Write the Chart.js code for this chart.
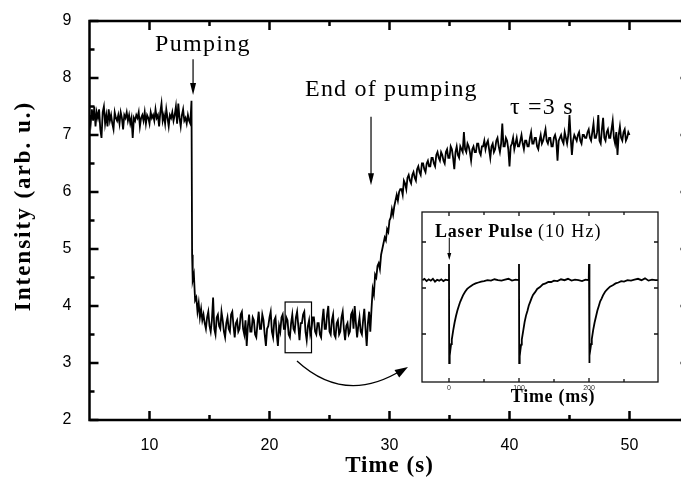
<!DOCTYPE html>
<html>
<head>
<meta charset="utf-8">
<script src="https://cdn.jsdelivr.net/npm/chart.js@4.4.1/dist/chart.umd.min.js"></script>
<style>
html,body{margin:0;padding:0;background:#fff;overflow:hidden;width:681px;height:479px;}
#wrap{position:relative;width:681px;height:479px;overflow:hidden;}
#main{position:absolute;left:0;top:0;}
#inset{position:absolute;left:380px;top:190px;}
</style>
</head>
<body>
<div id="wrap">
<canvas id="main" width="700" height="479"></canvas>
<canvas id="inset" width="300" height="230"></canvas>
</div>
<script>
// ---------- main trace data (time in s, intensity in arb. u.) ----------
const baselineTime = [5.0,5.1,5.2,5.3,5.4,5.5,5.6,5.7,5.8,5.9,6.0,6.1,6.2,6.3,6.4,6.5,6.6,6.7,6.8,6.9,7.0,7.1,7.2,7.3,7.4,7.5,7.6,7.7,7.8,7.9,8.0,8.1,8.2,8.3,8.4,8.5,8.6,8.7,8.8,8.9,9.0,9.1,9.2,9.3,9.4,9.5,9.6,9.7,9.8,9.9,10.0,10.1,10.2,10.3,10.4,10.5,10.6,10.7,10.8,10.9,11.0,11.1,11.2,11.3,11.4,11.5,11.6,11.7,11.8,11.9,12.0,12.1,12.2,12.3,12.4,12.5,12.6,12.7,12.8,12.9,13.0,13.1,13.2,13.3,13.4];
const baselineIntensity = [7.35,7.2,7.45,7.25,7.5,7.15,7.4,7.3,7.45,7.1,6.95,7.4,7.5,7.2,7.35,7.15,7.45,7.25,7.35,7.2,7.1,7.4,7.3,7.25,7.35,7.2,7.4,7.3,7.1,7.35,7.3,7.4,7.25,7.35,7.2,7.3,6.95,7.3,7.25,7.35,7.3,7.4,7.15,7.3,7.35,7.25,7.4,7.2,7.35,7.3,7.2,7.4,7.3,7.35,7.25,7.45,7.3,7.35,7.15,7.4,7.55,7.25,7.35,7.2,7.45,7.3,7.15,7.35,7.3,7.4,7.25,7.35,7.5,7.2,7.55,7.3,7.15,7.35,7.45,7.25,7.3,7.2,7.35,7.25,7.2];
const dropTime = [13.5,13.55,13.6,13.7,13.8,13.9,14.0,14.1,14.2,14.3,14.4];
const dropIntensity = [7.6,4.9,4.45,4.55,4.1,4.15,3.9,4.05,3.8,3.95,3.75];
const plateauTime = [14.5,14.6,14.7,14.8,14.9,15.0,15.1,15.2,15.3,15.4,
 15.5,15.6,15.7,15.8,15.9,16.0,16.1,16.2,16.3,16.4,
 16.5,16.6,16.7,16.8,16.9,17.0,17.1,17.2,17.3,17.4,
 17.5,17.6,17.7,17.8,17.9,18.0,18.1,18.2,18.3,18.4,
 18.5,18.6,18.7,18.8,18.9,19.0,19.1,19.2,19.3,19.4,
 19.5,19.6,19.7,19.8,19.9,20.0,20.1,20.2,20.3,20.4,
 20.5,20.6,20.7,20.8,20.9,21.0,21.1,21.2,21.3,21.4,
 21.5,21.6,21.7,21.8,21.9,22.0,22.1,22.2,22.3,22.4,
 22.5,22.6,22.7,22.8,22.9,23.0,23.1,23.2,23.3,23.4,
 23.5,23.6,23.7,23.8,23.9,24.0,24.1,24.2,24.3,24.4,
 24.5,24.6,24.7,24.8,24.9,25.0,25.1,25.2,25.3,25.4,
 25.5,25.6,25.7,25.8,25.9,26.0,26.1,26.2,26.3,26.4,
 26.5,26.6,26.7,26.8,26.9,27.0,27.1,27.2,27.3,27.4,
 27.5,27.6,27.7,27.8,27.9,28.0,28.1,28.2,28.3];
const plateauIntensity = [3.85,3.7,3.6,3.8,3.9,3.65,3.55,3.75,4.15,3.6,
 3.5,3.8,3.85,3.65,3.6,3.9,3.75,3.55,3.45,3.7,
 3.8,3.6,3.55,3.85,3.9,3.65,3.45,3.7,3.75,3.55,
 3.6,3.85,3.9,3.6,3.5,3.75,3.3,3.65,3.85,3.55,
 3.55,3.8,3.75,3.5,3.45,3.7,3.9,3.6,3.6,3.85,
 3.75,3.5,3.3,3.6,3.65,3.8,3.9,3.55,3.45,3.75,
 3.8,3.5,3.3,3.65,3.55,3.8,3.85,3.6,3.6,3.8,
 3.75,3.5,3.45,3.7,3.85,3.6,3.55,3.8,3.9,3.65,
 3.4,3.7,3.7,3.85,3.9,3.55,3.4,3.65,3.75,3.5,
 3.6,3.8,3.8,3.55,3.5,3.7,3.7,3.5,3.45,3.75,
 3.95,3.6,3.6,3.85,4.0,3.55,3.5,3.75,3.85,3.5,
 3.45,3.7,3.75,3.5,3.55,3.8,3.9,3.6,3.4,3.65,
 3.7,3.5,3.55,3.85,3.9,3.6,4.0,3.7,3.45,3.65,
 3.8,3.55,3.5,3.75,3.95,3.6,3.3,3.7,3.9];
const recoveryTime = [28.4,28.5,28.6,28.7,28.8,28.9,
 29.0,29.1,29.2,29.3,29.4,29.5,29.6,29.7,29.8,29.9,
 30.0,30.1,30.2,30.3,30.4,30.5,30.6,30.7,30.8,30.9,
 31.0,31.1,31.2,31.3,31.4,31.5,31.6,31.7,31.8,31.9,
 32.0,32.1,32.2,32.3,32.4,32.5,32.6,32.7,32.8,32.9,
 33.0,33.1,33.2,33.3,33.4,33.5,33.6,33.7,33.8,33.9,
 34.0,34.1,34.2,34.3,34.4,34.5,34.6,34.7,34.8,34.9,
 35.0,35.1,35.2,35.3,35.4,35.5,35.6,35.7,35.8,35.9,
 36.0,36.1,36.2,36.3,36.4,36.5,36.6,36.7,36.8,36.9,
 37.0,37.1,37.2,37.3,37.4,37.5,37.6,37.7,37.8,37.9,
 38.0,38.1,38.2,38.3,38.4,38.5,38.6,38.7,38.8,38.9,
 39.0,39.1,39.2,39.3,39.4,39.5,39.6,39.7,39.8,39.9,
 40.0,40.1,40.2,40.3,40.4,40.5,40.6,40.7,40.8,40.9,
 41.0,41.1,41.2,41.3,41.4,41.5,41.6,41.7,41.8,41.9,
 42.0,42.1,42.2,42.3,42.4,42.5,42.6,42.7,42.8,42.9,
 43.0,43.1,43.2,43.3,43.4,43.5,43.6,43.7,43.8,43.9,
 44.0,44.1,44.2,44.3,44.4,44.5,44.6,44.7,44.8,44.9,
 45.0,45.1,45.2,45.3,45.4,45.5,45.6,45.7,45.8,45.9,
 46.0,46.1,46.2,46.3,46.4,46.5,46.6,46.7,46.8,46.9,
 47.0,47.1,47.2,47.3,47.4,47.5,47.6,47.7,47.8,47.9,
 48.0,48.1,48.2,48.3,48.4,48.5,48.6,48.7,48.8,48.9,
 49.0,49.1,49.2,49.3,49.4,49.5,49.6,49.7,49.8,49.9,
 50.0];
const recoveryIntensity = [3.55,3.95,4.3,4.2,4.55,4.5,
 4.7,4.75,4.65,4.9,5.0,5.1,5.2,5.15,5.35,5.3,
 5.5,5.55,5.7,5.6,5.75,5.85,5.95,5.85,6.0,6.05,
 6.05,5.95,6.2,6.15,6.05,6.25,6.3,6.2,6.15,6.3,
 6.35,6.25,6.2,6.4,6.45,6.35,6.3,6.5,6.5,6.4,
 6.35,6.5,6.55,6.45,6.45,6.6,6.6,6.5,6.45,6.65,
 6.7,6.6,6.55,6.7,6.65,6.55,6.5,6.7,6.75,6.6,
 6.6,6.8,6.75,6.6,6.4,6.7,6.8,6.65,6.6,6.8,
 6.75,6.7,7.05,6.75,6.7,6.85,6.8,6.7,6.55,6.75,
 6.8,6.7,6.7,6.85,6.85,6.7,6.65,6.8,6.8,6.9,
 6.75,6.85,6.9,6.75,6.6,6.8,6.85,6.7,6.75,6.9,
 6.95,6.8,6.7,6.85,7.2,6.8,6.8,6.95,6.9,6.75,
 6.45,6.8,6.85,6.95,6.75,6.85,6.95,6.8,6.8,6.9,
 7.0,6.85,6.75,6.9,6.9,6.8,6.8,6.95,7.05,6.85,
 6.85,6.95,6.95,6.8,6.75,6.9,7.0,6.85,6.9,7.0,
 7.1,6.9,6.85,6.95,6.95,6.8,6.8,6.95,7.0,6.9,
 6.55,6.9,6.95,7.0,6.9,6.85,7.05,6.95,6.85,7.0,
 7.35,6.95,6.65,6.9,7.0,6.95,6.9,7.0,7.05,6.9,
 6.85,7.0,7.0,6.95,6.95,7.05,7.1,6.95,6.9,7.05,
 7.2,6.95,6.95,7.05,7.35,6.9,6.85,7.1,7.3,6.95,
 6.9,7.05,7.1,6.95,6.95,7.1,7.25,6.95,6.85,7.05,
 6.65,7.0,7.15,6.95,6.9,7.05,7.1,6.9,6.95,7.05,
 7.0];

// ---------- inset data (time in ms, signal arb.) ----------
const insetTime = [-38,-35,-32,-29,-26,-23,-20,-17,-14,-11,-8,-5,-2,-0.4,
 0,0.3,1,2,3,4,6,8,10,12,14,16,18,20,23,26,30,34,38,42,46,50,55,60,65,70,75,80,85,90,95,99.6,
 100,100.3,101,102,103,104,106,108,110,112,114,116,118,120,123,126,130,134,138,142,146,150,155,160,165,170,175,180,185,190,195,199.6,
 200,200.3,201,202,203,204,206,208,210,212,214,216,218,220,223,226,230,234,238,242,246,250,255,260,265,270,275,280,285,290,295,298.5];
const insetSignal = [1.17,1.2,1.15,1.19,1.16,1.2,1.14,1.18,1.16,1.19,1.15,1.18,1.17,1.17,
 1.52,-0.63,-0.47,-0.34,-0.22,-0.12,0.08,0.25,0.39,0.51,0.61,0.7,0.77,0.84,0.92,0.98,1.03,1.07,1.1,1.12,1.14,1.15,1.17,1.16,1.19,1.17,1.16,1.18,1.2,1.16,1.18,1.17,
 1.52,-0.63,-0.48,-0.35,-0.23,-0.12,0.07,0.26,0.4,0.5,0.62,0.7,0.78,0.85,0.91,0.98,1.02,1.08,1.1,1.13,1.13,1.16,1.15,1.19,1.17,1.2,1.16,1.18,1.17,1.15,1.18,1.17,
 1.52,-0.63,-0.47,-0.33,-0.22,-0.11,0.09,0.25,0.38,0.51,0.61,0.71,0.77,0.84,0.92,0.97,1.03,1.06,1.1,1.12,1.15,1.14,1.17,1.16,1.18,1.2,1.17,1.21,1.16,1.18,1.17,1.17];

// ---------- ticks ----------
const xTickLabels = [10,20,30,40,50];
const xMinorTicks = [15,25,35,45];
const yTickLabels = [2,3,4,5,6,7,8,9];
const yMinorTicks = [2.5,3.5,4.5,5.5,6.5,7.5,8.5];
const insetXTickLabels = [0,100,200];
const insetXMinorTicks = [50,150,250];
const insetYTicks = [0,1,2];

const time = [...baselineTime, ...dropTime, ...plateauTime, ...recoveryTime];
const intensity = [...baselineIntensity, ...dropIntensity, ...plateauIntensity, ...recoveryIntensity];
const mainPoints = time.map((t,i)=>({x:t,y:intensity[i]}));
const insetPoints = insetTime.map((t,i)=>({x:t,y:insetSignal[i]}));

const SERIF = '"Liberation Serif", "Times New Roman", serif';
const SANS = '"Liberation Sans", Arial, sans-serif';

function txt(ctx, s, x, y, font, spacing, align, baseline){
  ctx.save();
  ctx.font = font;
  try{ ctx.letterSpacing = spacing + 'px'; }catch(e){}
  ctx.textAlign = align || 'left';
  ctx.textBaseline = baseline || 'alphabetic';
  ctx.fillStyle = '#000';
  ctx.fillText(s, x, y);
  ctx.restore();
}
function arrowDown(ctx, x, y0, y1, headLen, headW, lw){
  ctx.save();
  ctx.strokeStyle = '#000'; ctx.fillStyle = '#000'; ctx.lineWidth = lw;
  ctx.beginPath(); ctx.moveTo(x, y0); ctx.lineTo(x, y1 - headLen + 1); ctx.stroke();
  ctx.beginPath(); ctx.moveTo(x - headW/2, y1 - headLen); ctx.lineTo(x + headW/2, y1 - headLen); ctx.lineTo(x, y1); ctx.closePath(); ctx.fill();
  ctx.restore();
}

// ---------- main chart plugin ----------
const mainDecor = {
  id:'mainDecor',
  afterDraw(chart){
    const ctx = chart.ctx, a = chart.chartArea, xs = chart.scales.x, ys = chart.scales.y;
    ctx.save();
    ctx.strokeStyle = '#000';
    ctx.lineWidth = 2.5;
    ctx.strokeRect(a.left, a.top, a.right - a.left, a.bottom - a.top);
    ctx.beginPath();
    const tick = (v, len) => { const p = xs.getPixelForValue(v);
      ctx.moveTo(p, a.bottom); ctx.lineTo(p, a.bottom - len);
      ctx.moveTo(p, a.top); ctx.lineTo(p, a.top + len); };
    xTickLabels.forEach(v => tick(v, 9));
    xMinorTicks.forEach(v => tick(v, 5));
    const ytick = (v, len) => { const p = ys.getPixelForValue(v);
      ctx.moveTo(a.left, p); ctx.lineTo(a.left + len, p);
      ctx.moveTo(a.right, p); ctx.lineTo(a.right - len, p); };
    yTickLabels.forEach(v => ytick(v, 9));
    yMinorTicks.forEach(v => ytick(v, 5));
    ctx.stroke();

    // zoom rectangle
    ctx.lineWidth = 1.2;
    const rx0 = xs.getPixelForValue(21.3), rx1 = xs.getPixelForValue(23.5);
    const ry0 = ys.getPixelForValue(4.07), ry1 = ys.getPixelForValue(3.18);
    ctx.strokeRect(rx0, ry0, rx1 - rx0, ry1 - ry0);

    // curved arrow
    const sx = xs.getPixelForValue(22.29), sy = ys.getPixelForValue(3.035);
    const cx = xs.getPixelForValue(26.29), cy = ys.getPixelForValue(2.26);
    const ex = xs.getPixelForValue(31.54), ey = ys.getPixelForValue(2.93);
    ctx.lineWidth = 1.3;
    ctx.beginPath(); ctx.moveTo(sx, sy); ctx.quadraticCurveTo(cx, cy, ex - 6, ey + 3); ctx.stroke();
    const ang = Math.atan2(ey - cy, ex - cx);
    ctx.beginPath();
    ctx.moveTo(ex, ey);
    ctx.lineTo(ex - 13*Math.cos(ang) + 4.5*Math.sin(ang), ey - 13*Math.sin(ang) - 4.5*Math.cos(ang));
    ctx.lineTo(ex - 13*Math.cos(ang) - 4.5*Math.sin(ang), ey - 13*Math.sin(ang) + 4.5*Math.cos(ang));
    ctx.closePath(); ctx.fillStyle = '#000'; ctx.fill();
    ctx.restore();

    // annotations
    txt(ctx, 'Pumping', xs.getPixelForValue(10.46), ys.getPixelForValue(8.47), '24px ' + SERIF, 1.3);
    arrowDown(ctx, xs.getPixelForValue(13.63), ys.getPixelForValue(8.33), ys.getPixelForValue(7.7), 12, 6, 1.2);
    txt(ctx, 'End of pumping', xs.getPixelForValue(22.96), ys.getPixelForValue(7.68), '24px ' + SERIF, 1.2);
    arrowDown(ctx, xs.getPixelForValue(28.46), ys.getPixelForValue(7.32), ys.getPixelForValue(6.12), 12, 6, 1.2);
    txt(ctx, '\u03c4 =3 s', xs.getPixelForValue(40.04), ys.getPixelForValue(7.37), '24px ' + SERIF, 1.2);

    // axis titles
    txt(ctx, 'Time (s)', (a.left + a.right)/2, 472, 'bold 23px ' + SERIF, 1, 'center');
    ctx.save();
    ctx.translate(30, 206);
    ctx.rotate(-Math.PI/2);
    txt(ctx, 'Intensity (arb. u.)', 0, 0, 'bold 23px ' + SERIF, 2, 'center');
    ctx.restore();
  }
};

new Chart(document.getElementById('main'), {
  type:'line',
  data:{ datasets:[{ data: mainPoints, borderColor:'#000', borderWidth:1.8, pointRadius:0, tension:0, fill:false }] },
  options:{
    responsive:false, animation:false, devicePixelRatio:1,
    layout:{ padding:{ left:0, right:10.5, top:21, bottom:0 } },
    plugins:{ legend:{display:false}, tooltip:{enabled:false}, title:{display:false} },
    scales:{
      x:{ type:'linear', min:5, max:55,
          afterBuildTicks:s=>{ s.ticks = xTickLabels.map(v=>({value:v})); },
          afterFit:s=>{ s.height = 59; },
          grid:{display:false}, border:{display:false},
          ticks:{ color:'#000', font:{family:SANS, size:16}, padding:8, maxRotation:0, autoSkip:false } },
      y:{ type:'linear', min:2, max:9,
          afterBuildTicks:s=>{ s.ticks = yTickLabels.map(v=>({value:v})); },
          afterFit:s=>{ s.width = 89.5; },
          grid:{display:false}, border:{display:false},
          ticks:{ color:'#000', font:{family:SANS, size:16}, padding:10, autoSkip:false } }
    }
  },
  plugins:[mainDecor]
});

// ---------- inset chart ----------
const insetDecor = {
  id:'insetDecor',
  beforeDraw(chart){
    const ctx = chart.ctx, a = chart.chartArea;
    ctx.save(); ctx.fillStyle = '#fff';
    ctx.fillRect(a.left, a.top, a.right - a.left, a.bottom - a.top);
    ctx.restore();
  },
  afterDraw(chart){
    const ctx = chart.ctx, a = chart.chartArea, xs = chart.scales.x, ys = chart.scales.y;
    ctx.save();
    ctx.strokeStyle = '#111';
    ctx.lineWidth = 1.3;
    ctx.strokeRect(a.left, a.top, a.right - a.left, a.bottom - a.top);
    ctx.beginPath();
    const tick = (v, len) => { const p = xs.getPixelForValue(v);
      ctx.moveTo(p, a.bottom); ctx.lineTo(p, a.bottom - len);
      ctx.moveTo(p, a.top); ctx.lineTo(p, a.top + len); };
    insetXTickLabels.forEach(v => tick(v, 4));
    insetXMinorTicks.forEach(v => tick(v, 3));
    insetYTicks.forEach(v => { const p = ys.getPixelForValue(v);
      ctx.moveTo(a.left, p); ctx.lineTo(a.left + 4, p);
      ctx.moveTo(a.right, p); ctx.lineTo(a.right - 4, p); });
    ctx.stroke();
    ctx.restore();
    insetXTickLabels.forEach(v => {
      ctx.save(); ctx.fillStyle = '#333'; ctx.font = '7px ' + SANS;
      ctx.textAlign = 'center'; ctx.textBaseline = 'middle';
      ctx.fillText(String(v), xs.getPixelForValue(v), a.bottom + 6);
      ctx.restore();
    });
    txt(ctx, 'Laser Pulse', xs.getPixelForValue(-20), ys.getPixelForValue(2.11), 'bold 18px ' + SERIF, 0.8);
    txt(ctx, '(10 Hz)', xs.getPixelForValue(127), ys.getPixelForValue(2.11), '18px ' + SERIF, 1.2);
    arrowDown(ctx, xs.getPixelForValue(0.4), ys.getPixelForValue(2.09), ys.getPixelForValue(1.61), 7, 4, 1);
    txt(ctx, 'Time (ms)', xs.getPixelForValue(148.6), ys.getPixelForValue(-1.478), 'bold 18px ' + SERIF, 0.7, 'center');
  }
};

new Chart(document.getElementById('inset'), {
  type:'line',
  data:{ datasets:[{ data: insetPoints, borderColor:'#000', borderWidth:1.8, pointRadius:0, tension:0, fill:false }] },
  options:{
    responsive:false, animation:false, devicePixelRatio:1,
    layout:{ padding:{ left:0, right:22, top:22, bottom:0 } },
    plugins:{ legend:{display:false}, tooltip:{enabled:false}, title:{display:false} },
    scales:{
      x:{ type:'linear', min:-38.57, max:298.57,
          afterBuildTicks:s=>{ s.ticks = insetXTickLabels.map(v=>({value:v})); },
          afterFit:s=>{ s.height = 38; },
          grid:{display:false}, border:{display:false},
          ticks:{ display:false } },
      y:{ type:'linear', min:-1.043, max:2.652,
          afterBuildTicks:s=>{ s.ticks = insetYTicks.map(v=>({value:v})); },
          afterFit:s=>{ s.width = 42; },
          grid:{display:false}, border:{display:false},
          ticks:{ display:false } }
    }
  },
  plugins:[insetDecor]
});
</script>
</body>
</html>
